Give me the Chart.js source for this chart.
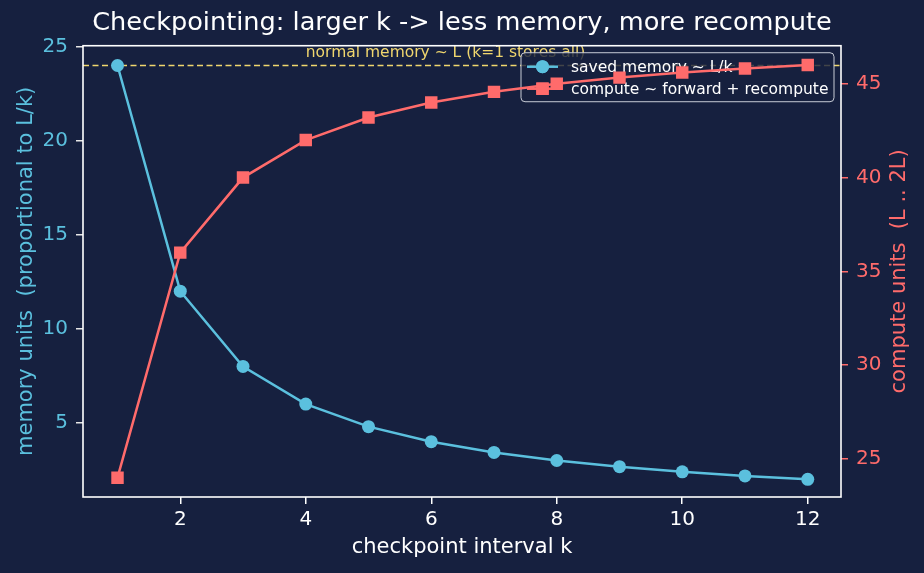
<!DOCTYPE html>
<html>
<head>
<meta charset="utf-8">
<script src="https://cdn.jsdelivr.net/npm/chart.js@4"></script>
<style>
  html, body { margin: 0; padding: 0; background: #16203f; }
  #wrap { width: 924px; height: 573px; }
</style>
</head>
<body>
<div id="wrap"><canvas id="chart" width="924" height="573"></canvas></div>
<script>
// data
const kValues = [1, 2, 3, 4, 5, 6, 7, 8, 9, 10, 11, 12];
const memoryUnits = [24, 12, 8, 6, 4.8, 4, 3.43, 3, 2.67, 2.4, 2.18, 2];
const computeUnits = [24, 36, 40, 42, 43.2, 44, 44.57, 45, 45.33, 45.6, 45.82, 46];
const normalMemory = 24;
const normalLabelK = 4;
const xTicks = [2, 4, 6, 8, 10, 12];
const memoryTicks = [5, 10, 15, 20, 25];
const computeTicks = [25, 30, 35, 40, 45];

const BG = '#16203f';
const CYAN = '#5bc0de';
const RED = '#ff6b6b';
const YELLOW = '#f0d66e';

Chart.defaults.font.family = '"DejaVu Sans", sans-serif';

function fixedTicks(list) {
    return (scale) => { scale.ticks = list.map(v => ({ value: v })); };
}

// dashed "normal memory" line + its label, under the series
const normalLine = {
    id: 'normalLine',
    beforeDatasetsDraw(chart) {
        const { ctx, chartArea } = chart;
        const y = chart.scales.y.getPixelForValue(normalMemory);
        ctx.save();
        ctx.strokeStyle = YELLOW;
        ctx.lineWidth = 1.6;
        ctx.setLineDash([6, 3.5]);
        ctx.beginPath();
        ctx.moveTo(chartArea.left, y);
        ctx.lineTo(chartArea.right, y);
        ctx.stroke();
        ctx.setLineDash([]);
        ctx.fillStyle = YELLOW;
        ctx.font = '15.5px "DejaVu Sans"';
        ctx.textAlign = 'left';
        ctx.textBaseline = 'bottom';
        ctx.fillText('normal memory ~ L (k=1 stores all)',
            chart.scales.x.getPixelForValue(normalLabelK),
            chart.scales.y.getPixelForValue(normalMemory + 0.25));
        ctx.restore();
    }
};

// legend for the memory axis: drawn after the memory line, before the compute line
const axLegend = {
    id: 'axLegend',
    afterDatasetDraw(chart, args) {
        if (args.index !== 0) return;
        const { ctx, chartArea } = chart;
        const w = 313, h = 49;
        const x0 = chartArea.right - 7 - w, y0 = chartArea.top + 7;
        ctx.save();
        ctx.globalAlpha = 0.8;
        ctx.fillStyle = BG;
        ctx.beginPath();
        ctx.roundRect(x0, y0, w, h, 4);
        ctx.fill();
        ctx.globalAlpha = 1;
        ctx.strokeStyle = '#c8ccd6';
        ctx.lineWidth = 1;
        ctx.stroke();

        const items = [
            { text: 'saved memory ~ L/k', color: CYAN, style: 'circle', r: 6.5 },
            { text: 'compute ~ forward + recompute', color: RED, style: 'rect', r: 8.8 }
        ];
        ctx.font = '15.5px "DejaVu Sans"';
        ctx.textBaseline = 'middle';
        items.forEach((it, i) => {
            const cy = y0 + 14 + i * 22;
            ctx.strokeStyle = it.color;
            ctx.lineWidth = 2.5;
            ctx.beginPath();
            ctx.moveTo(x0 + 6, cy);
            ctx.lineTo(x0 + 37, cy);
            ctx.stroke();
            ctx.fillStyle = it.color;
            Chart.helpers.drawPoint(ctx, { pointStyle: it.style, radius: it.r, borderWidth: 0 }, x0 + 21.5, cy);
            ctx.fill();
            ctx.fillStyle = '#ffffff';
            ctx.fillText(it.text, x0 + 50, cy + 1);
        });
        ctx.restore();
    }
};

// frame round the plot, plus the right-hand axis title read bottom to top
const frame = {
    id: 'frame',
    afterDatasetsDraw(chart) {
        const { ctx, chartArea: a } = chart;
        ctx.save();
        ctx.strokeStyle = '#ffffff';
        ctx.lineWidth = 1.6;
        ctx.strokeRect(a.left, a.top, a.right - a.left, a.bottom - a.top);
        ctx.translate(chart.width - 24, (a.top + a.bottom) / 2);
        ctx.rotate(-Math.PI / 2);
        ctx.fillStyle = RED;
        ctx.font = '21px "DejaVu Sans"';
        ctx.textAlign = 'center';
        ctx.textBaseline = 'middle';
        ctx.fillText('compute units  (L .. 2L)', 0, 0);
        ctx.restore();
    }
};

new Chart(document.getElementById('chart'), {
    type: 'line',
    data: {
        labels: kValues,
        datasets: [
            {
                label: 'saved memory ~ L/k',
                data: kValues.map((k, i) => ({ x: k, y: memoryUnits[i] })),
                yAxisID: 'y',
                borderColor: CYAN,
                backgroundColor: CYAN,
                borderWidth: 2.5,
                pointStyle: 'circle',
                pointRadius: 6.5,
                pointBorderWidth: 0,
                tension: 0,
                order: 2
            },
            {
                label: 'compute ~ forward + recompute',
                data: kValues.map((k, i) => ({ x: k, y: computeUnits[i] })),
                yAxisID: 'y2',
                borderColor: RED,
                backgroundColor: RED,
                borderWidth: 2.5,
                pointStyle: 'rect',
                pointRadius: 8.8,
                pointBorderWidth: 0,
                tension: 0,
                order: 1
            }
        ]
    },
    options: {
        responsive: false,
        animation: false,
        layout: { padding: 0 },
        plugins: {
            legend: { display: false },
            tooltip: { enabled: false },
            title: {
                display: true,
                text: 'Checkpointing: larger k -> less memory, more recompute',
                color: '#ffffff',
                font: { size: 25.6, weight: 'normal', lineHeight: 1.2 },
                padding: { top: 8, bottom: 7 }
            }
        },
        scales: {
            x: {
                type: 'linear',
                min: 0.45,
                max: 12.53,
                afterBuildTicks: fixedTicks(xTicks),
                afterFit: (s) => { s.height = 76; },
                border: { display: false },
                grid: { drawOnChartArea: false, drawTicks: true, tickLength: 7, color: '#ffffff', lineWidth: 1.5 },
                ticks: { color: '#ffffff', font: { size: 20 }, padding: 4, maxRotation: 0 },
                title: { display: true, text: 'checkpoint interval k', color: '#ffffff', font: { size: 21 }, padding: { top: 0, bottom: 13 } }
            },
            y: {
                type: 'linear',
                position: 'left',
                min: 1.06,
                max: 25.05,
                afterBuildTicks: fixedTicks(memoryTicks),
                afterFit: (s) => { s.width = 83; },
                border: { display: false },
                grid: { drawOnChartArea: false, drawTicks: true, tickLength: 7, color: '#e6e6e6', lineWidth: 1.5 },
                ticks: { color: CYAN, font: { size: 20 }, padding: 8 },
                title: { display: true, text: 'memory units  (proportional to L/k)', color: CYAN, font: { size: 21 }, padding: { top: 14, bottom: 0 } }
            },
            y2: {
                type: 'linear',
                position: 'right',
                min: 22.97,
                max: 47.03,
                afterBuildTicks: fixedTicks(computeTicks),
                afterFit: (s) => { s.width = 83; },
                border: { display: false },
                grid: { drawOnChartArea: false, drawTicks: true, tickLength: 7, color: RED, lineWidth: 1.5 },
                ticks: { color: RED, font: { size: 20 }, padding: 8 },
                title: { display: false }
            }
        }
    },
    plugins: [normalLine, axLegend, frame]
});
</script>
</body>
</html>
